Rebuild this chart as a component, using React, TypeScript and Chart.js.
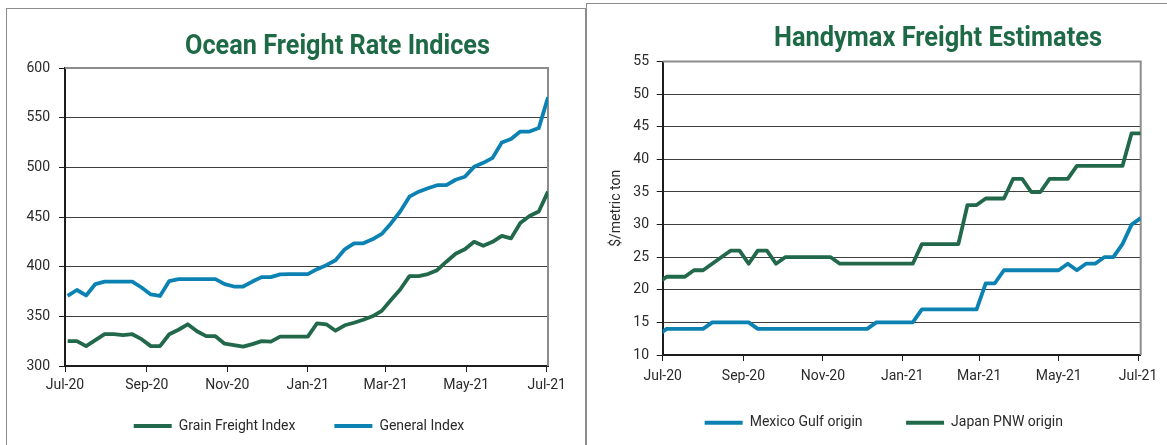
import React, { useEffect, useRef } from 'react';
import { Chart, registerables } from 'chart.js';

Chart.register(...registerables);

// ---------------- Data ----------------
const oceanTitle = 'Ocean Freight Rate Indices';
const handyTitle = 'Handymax Freight Estimates';

const axisStartDate = '2020-07-01';
const monthTickDates = ['2020-07-01', '2020-09-01', '2020-11-01', '2021-01-01', '2021-03-01', '2021-05-01', '2021-07-01'];
const monthTickLabels = ['Jul-20', 'Sep-20', 'Nov-20', 'Jan-21', 'Mar-21', 'May-21', 'Jul-21'];

// Ocean freight: weekly values starting 2020-07-03
const oceanFirstWeek = '2020-07-03';
const oceanLastDate = '2021-07-02';
const grainFreightIndex = [
  325, 325, 320, 326, 332, 332, 331, 332, 327, 320, 320, 332, 336.5, 342, 335, 330, 330, 322.5, 321, 319.5,
  322, 325, 324.5, 329.5, 329.5, 329.5, 329.5, 343, 342, 335.5, 341, 343.5, 346.5, 350, 355.5, 366.5, 377,
  390.5, 390.5, 392.5, 396.5, 405, 413, 417.5, 425, 421, 425, 431, 428.5, 444, 451, 455.5, 475.5,
];
const generalIndex = [
  370.5, 376.5, 371, 382.5, 385, 385, 385, 385, 379, 372, 370.5, 385.5, 387.5, 387.5, 387.5, 387.5, 387.5,
  382.5, 380, 380, 385, 389.5, 389.5, 392.3, 392.5, 392.5, 392.5, 397.5, 401.5, 406.5, 417.5, 423.5, 423.5,
  427.5, 433, 443.5, 455.5, 470.5, 475.5, 479, 482, 482, 487.5, 490.5, 500.5, 504.5, 509.5, 525, 528.5, 536,
  536, 539.5, 570.5,
];
const oceanYMin = 300;
const oceanYMax = 600;
const oceanYStep = 50;

// Handymax: weekly values starting 2020-06-27
const handyFirstWeek = '2020-06-27';
const handyLastDate = '2021-07-03';
const mexicoGulfOrigin = [
  13, 14, 14, 14, 14, 14, 15, 15, 15, 15, 15, 14, 14, 14, 14, 14, 14, 14, 14, 14, 14, 14, 14, 14, 15, 15, 15,
  15, 15, 17, 17, 17, 17, 17, 17, 17, 21, 21, 23, 23, 23, 23, 23, 23, 23, 24, 23, 24, 24, 25, 25, 27, 30, 31,
];
const japanPNWOrigin = [
  21, 22, 22, 22, 23, 23, 24, 25, 26, 26, 24, 26, 26, 24, 25, 25, 25, 25, 25, 25, 24, 24, 24, 24, 24, 24, 24,
  24, 24, 27, 27, 27, 27, 27, 33, 33, 34, 34, 34, 37, 37, 35, 35, 37, 37, 37, 39, 39, 39, 39, 39, 39, 44, 44,
];
const handyYMin = 10;
const handyYMax = 55;
const handyYStep = 5;
const handyYTitle = '$/metric ton';

// ---------------- Styles ----------------
const GREEN = '#22684A';
const BLUE = '#0C82B3';
const TITLE_GREEN = '#1F6A46';
const TEXT = '#2a2a2a';
const GRID = '#3f3f3f';
const AXIS = '#1c1c1c';
const FRAME = '#8c8c8c';
const FONT = 'Roboto';
const LEGEND_FONT_SIZE = 14;
const LINE_WIDTH = 3.8;

const DAY = 86400000;
const dayOf = (d: string) => (Date.parse(d + 'T00:00:00Z') - Date.parse(axisStartDate + 'T00:00:00Z')) / DAY;
const tickDays = monthTickDates.map(dayOf);
const weekly = (first: string, values: number[]) => values.map((v, i) => ({ x: dayOf(first) + 7 * i, y: v }));

// grey frame on the top and right of the plot area
const plotFrame = {
  id: 'plotFrame',
  beforeDatasetsDraw(chart: any, _args: any, opts: any) {
    const { ctx, chartArea } = chart;
    ctx.save();
    ctx.strokeStyle = opts.color;
    ctx.lineWidth = opts.width;
    ctx.beginPath();
    ctx.moveTo(chartArea.left, chartArea.top);
    ctx.lineTo(chartArea.right, chartArea.top);
    ctx.lineTo(chartArea.right, chartArea.bottom);
    ctx.stroke();
    ctx.restore();
  },
};

// place the legend row at a chosen centre / middle line
const legendPlace = {
  id: 'legendPlace',
  afterLayout(chart: any, _args: any, opts: any) {
    const lg = chart.legend;
    if (!lg) return;
    const pad = lg.options.labels.padding;
    const w = lg.right - lg.left;
    const h = lg.bottom - lg.top;
    lg.left = opts.cx - w / 2;
    lg.right = lg.left + w;
    lg.top = opts.midY - pad - LEGEND_FONT_SIZE / 2;
    lg.bottom = lg.top + h;
  },
};

type Geo = {
  padding: { left: number; right: number; top: number; bottom: number };
  yWidth: number;
  xHeight: number;
  yTickPad: number;
  xTickPad: number;
  legendGap: number;
  legendCx: number;
  legendMidY: number;
};

function buildConfig(opts: {
  datasets: any[];
  xMax: number;
  yMin: number;
  yMax: number;
  yStep: number;
  geo: Geo;
  yTitle?: { text: string; padTop: number };
}) {
  const { geo } = opts;
  return {
    type: 'line' as const,
    data: { datasets: opts.datasets },
    plugins: [plotFrame, legendPlace],
    options: {
      animation: false as const,
      responsive: true,
      maintainAspectRatio: false,
      events: [] as any[],
      layout: { padding: geo.padding },
      elements: { point: { radius: 0 }, line: { tension: 0, borderJoinStyle: 'round' as const } },
      scales: {
        x: {
          type: 'linear' as const,
          min: 0,
          max: opts.xMax,
          afterBuildTicks: (s: any) => {
            s.ticks = tickDays.map((v) => ({ value: v }));
          },
          afterFit: (s: any) => {
            s.height = geo.xHeight;
          },
          ticks: {
            autoSkip: false,
            maxRotation: 0,
            padding: geo.xTickPad,
            color: TEXT,
            font: { family: FONT, size: 14 },
            callback: (v: any) => {
              const i = tickDays.indexOf(Number(v));
              return i >= 0 ? monthTickLabels[i] : '';
            },
          },
          grid: { drawOnChartArea: false, drawTicks: true, tickLength: 6, tickColor: AXIS, tickWidth: 1 },
          border: { display: true, color: AXIS, width: 2 },
        },
        y: {
          type: 'linear' as const,
          min: opts.yMin,
          max: opts.yMax,
          afterFit: (s: any) => {
            s.width = geo.yWidth;
          },
          ticks: {
            stepSize: opts.yStep,
            padding: geo.yTickPad,
            color: TEXT,
            font: { family: FONT, size: 14 },
          },
          grid: { color: GRID, lineWidth: 1, drawTicks: true, tickLength: 6, tickColor: AXIS },
          border: { display: true, color: AXIS, width: 2 },
          title: opts.yTitle
            ? {
                display: true,
                text: opts.yTitle.text,
                color: TEXT,
                font: { family: FONT, size: 14 },
                padding: { top: opts.yTitle.padTop, bottom: 0 },
              }
            : { display: false },
        },
      },
      plugins: {
        plotFrame: { color: FRAME, width: 2 },
        legendPlace: { cx: geo.legendCx, midY: geo.legendMidY },
        tooltip: { enabled: false },
        title: { display: false },
        legend: {
          display: true,
          position: 'bottom' as const,
          labels: {
            boxWidth: 38,
            boxHeight: 4,
            padding: geo.legendGap,
            color: TEXT,
            font: { family: FONT, size: LEGEND_FONT_SIZE },
            generateLabels: (chart: any) =>
              (Chart.defaults.plugins.legend.labels.generateLabels as any)(chart).map((l: any) => ({
                ...l,
                fillStyle: l.strokeStyle,
                lineWidth: 0,
              })),
          },
        },
      },
    },
  };
}

function ChartBox(props: { left: number; top: number; width: number; height: number; make: () => any }) {
  const ref = useRef<HTMLCanvasElement | null>(null);
  useEffect(() => {
    const chart = new Chart(ref.current as HTMLCanvasElement, props.make());
    return () => chart.destroy();
  }, []);
  return (
    <div style={{ position: 'absolute', left: props.left, top: props.top, width: props.width, height: props.height }}>
      <canvas ref={ref} />
    </div>
  );
}

let measureCtx: CanvasRenderingContext2D | null = null;
function textWidth(text: string, font: string) {
  if (!measureCtx) measureCtx = document.createElement('canvas').getContext('2d');
  measureCtx!.font = font;
  return measureCtx!.measureText(text).width;
}

function Title(props: { text: string; left: number; top: number; width: number }) {
  const font = `bold 28px ${FONT}`;
  const w = textWidth(props.text, font) || props.width;
  const s = props.width / w;
  return (
    <div
      style={{
        position: 'absolute',
        left: props.left,
        top: props.top,
        font,
        lineHeight: '28px',
        color: TITLE_GREEN,
        whiteSpace: 'nowrap',
        transform: `scaleX(${s})`,
        transformOrigin: 'left top',
      }}
    >
      {props.text}
    </div>
  );
}

export default function App() {
  const makeOcean = () =>
    buildConfig({
      datasets: [
        {
          label: 'Grain Freight Index',
          data: weekly(oceanFirstWeek, grainFreightIndex),
          borderColor: GREEN,
          backgroundColor: GREEN,
          borderWidth: LINE_WIDTH,
        },
        {
          label: 'General Index',
          data: weekly(oceanFirstWeek, generalIndex),
          borderColor: BLUE,
          backgroundColor: BLUE,
          borderWidth: LINE_WIDTH,
        },
      ],
      xMax: dayOf(oceanLastDate),
      yMin: oceanYMin,
      yMax: oceanYMax,
      yStep: oceanYStep,
      geo: {
        // canvas 590 x 460 at page (0,0): plot 65..548 x 68..366
        padding: { left: 0, right: 42, top: 68, bottom: 1 },
        yWidth: 65,
        xHeight: 30,
        yTickPad: 9,
        xTickPad: 5.5,
        legendGap: 39,
        legendCx: 299,
        legendMidY: 426,
      },
    });

  const makeHandy = () =>
    buildConfig({
      datasets: [
        {
          label: 'Mexico Gulf origin',
          data: weekly(handyFirstWeek, mexicoGulfOrigin),
          borderColor: BLUE,
          backgroundColor: BLUE,
          borderWidth: LINE_WIDTH,
          clip: 0,
        },
        {
          label: 'Japan PNW origin',
          data: weekly(handyFirstWeek, japanPNWOrigin),
          borderColor: GREEN,
          backgroundColor: GREEN,
          borderWidth: LINE_WIDTH,
          clip: 0,
        },
      ],
      xMax: dayOf(handyLastDate),
      yMin: handyYMin,
      yMax: handyYMax,
      yStep: handyYStep,
      geo: {
        // canvas 581 x 460 at page (586,0): plot 662.7..1140.7 x 61.6..355
        padding: { left: 0, right: 26.3, top: 61.6, bottom: 7.5 },
        yWidth: 76.7,
        xHeight: 30,
        yTickPad: 7.7,
        xTickPad: 7,
        legendGap: 43.5,
        legendCx: 297.8,
        legendMidY: 422.7,
      },
      yTitle: { text: handyYTitle, padTop: 22.1 },
    });

  return (
    <div
      style={{
        position: 'absolute',
        left: 0,
        top: 0,
        width: 1167,
        height: 445,
        overflow: 'hidden',
        background: '#ffffff',
      }}
    >
      <div
        style={{
          position: 'absolute',
          left: 6,
          top: 8,
          width: 580,
          height: 470,
          border: `1px solid ${FRAME}`,
          boxSizing: 'border-box',
        }}
      />
      <div
        style={{
          position: 'absolute',
          left: 586,
          top: 3,
          width: 620,
          height: 470,
          border: `1px solid ${FRAME}`,
          boxSizing: 'border-box',
        }}
      />
      <ChartBox left={0} top={0} width={590} height={460} make={makeOcean} />
      <ChartBox left={586} top={0} width={581} height={460} make={makeHandy} />
      <Title text={oceanTitle} left={185} top={31.3} width={305} />
      <Title text={handyTitle} left={774} top={23.3} width={328} />
    </div>
  );
}
